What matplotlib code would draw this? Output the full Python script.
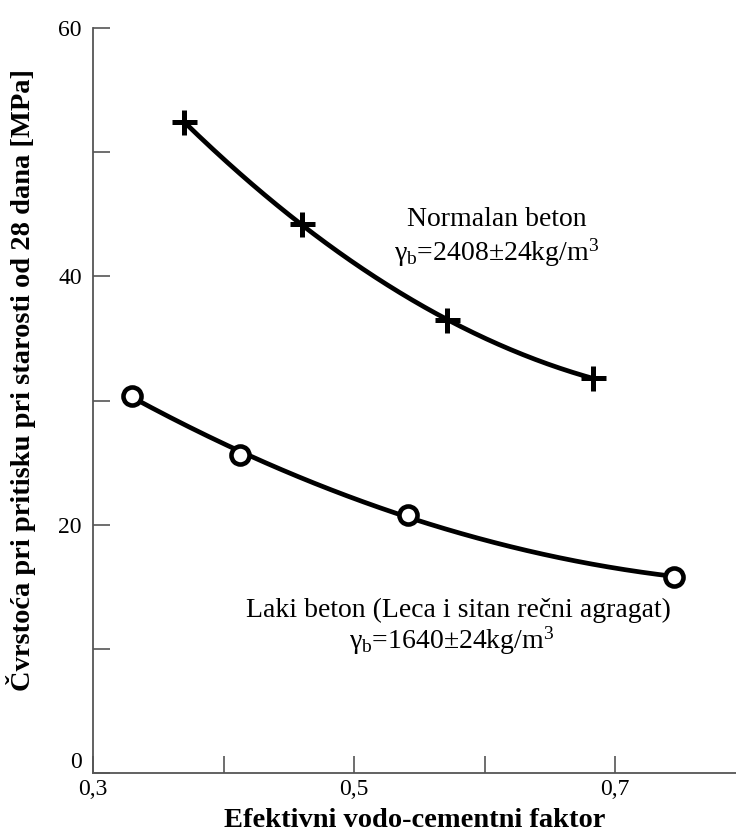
import numpy as np
import matplotlib
matplotlib.use("Agg")
import matplotlib.pyplot as plt

plt.rcParams['font.family'] = ['Liberation Serif', 'DejaVu Serif']
plt.rcParams['mathtext.fontset'] = 'custom'
plt.rcParams['mathtext.rm'] = 'Liberation Serif'
plt.rcParams['mathtext.it'] = 'Liberation Serif:italic'

# normalan beton (plus markers)
wc_normal = [0.37, 0.46, 0.571, 0.683]
fc_normal = [52.4, 44.2, 36.5, 31.8]

# laki beton (open circles)
wc_light = [0.33, 0.413, 0.541, 0.745]
fc_light = [30.4, 25.6, 20.8, 15.8]

x_ticks = [0.3, 0.4, 0.5, 0.6, 0.7]
x_labels = ['0,3', '', '0,5', '', '0,7']
y_ticks = [0, 10, 20, 30, 40, 50, 60]
y_labels = ['0', '', '20', '', '40', '', '60']

fig = plt.figure(figsize=(7.36, 8.34), dpi=100)
ax = fig.add_axes([0.1264, 0.0731, 0.8736, 0.8933])

# smooth curves through the measured points
for xs, ys in [(wc_normal, fc_normal), (wc_light, fc_light)]:
    c = np.polyfit(xs, ys, 2)
    xx = np.linspace(xs[0], xs[-1], 200)
    ax.plot(xx, np.polyval(c, xx), color='black', lw=3.4, solid_capstyle='round', zorder=2)

ax.plot(wc_normal, fc_normal, ls='none', marker='+', ms=18, mew=3.6, color='black', zorder=3)
ax.plot(wc_light, fc_light, ls='none', marker='o', ms=13, mew=3.3, mfc='white', mec='black', zorder=3)

ax.text(0.6096, 44.04, 'Normalan beton', ha='center', va='baseline', fontsize=20)
ax.text(0.609, 41.3, r'γ$_\mathrm{b}$=2408±24kg/m$^3$', ha='center', va='baseline', fontsize=20)
ax.text(0.5797, 12.56, 'Laki beton (Leca i sitan rečni agragat)', ha='center', va='baseline', fontsize=20)
ax.text(0.5748, 10.06, r'γ$_\mathrm{b}$=1640±24kg/m$^3$', ha='center', va='baseline', fontsize=20)

ax.set_xlim(0.3, 0.7927)
ax.set_ylim(0, 60)
ax.set_xticks(x_ticks)
ax.set_xticklabels(x_labels)
ax.set_yticks(y_ticks)
ax.set_yticklabels(y_labels)
ax.tick_params(direction='in', length=12, width=1.2, color='#555555', labelsize=17, pad=4)
ax.tick_params(axis='y', pad=8)
ax.get_yticklabels()[0].set_va('bottom')

for s in ['top', 'right']:
    ax.spines[s].set_visible(False)
for s in ['left', 'bottom']:
    ax.spines[s].set_color('#555555')
    ax.spines[s].set_linewidth(1.3)

ax.set_xlabel('Efektivni vodo-cementni faktor', fontsize=20.5, fontweight='bold', labelpad=6)
ax.set_ylabel('Čvrstoća pri pritisku pri starosti od 28 dana [MPa]', fontsize=20.5,
              fontweight='bold', labelpad=4)
ax.yaxis.set_label_coords(-0.088, 0.527)

fig.savefig('out.png', dpi=100)
